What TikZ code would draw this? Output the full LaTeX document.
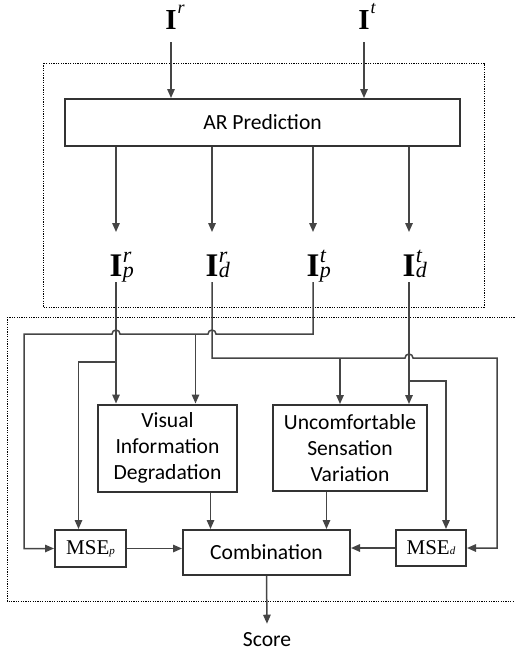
\documentclass[tikz,border=0pt]{standalone}
\usepackage{amsmath}
\usepackage{fontspec}
\setmainfont{Carlito}
\newfontfamily\tmsfont{Liberation Serif}
\usetikzlibrary{arrows.meta,calc,shadows}
\definecolor{wirecol}{HTML}{454545}
\definecolor{boxcol}{HTML}{333333}
% bold I with italic script letters hanging to the right
\newcommand{\imgtop}[1]{\textbf{I}\rlap{\kern1pt\fontsize{18}{18}\selectfont\itshape\raisebox{16pt}{#1}}}
\newcommand{\imgsub}[2]{\textbf{I}\rlap{\kern0.5pt\fontsize{22}{22}\selectfont\itshape\makebox[0pt][l]{\raisebox{13.5pt}{#1}}\raisebox{-1pt}{#2}}}

\begin{document}
\begin{tikzpicture}[x=1pt,y=-1pt,
  wire/.style={draw=wirecol,line width=1.5pt},
  arr/.style={wire,-{Triangle[length=9pt,width=7.5pt]}},
  blk/.style={draw=boxcol,line width=2pt,fill=white,inner sep=0pt,align=center,
    font=\fontsize{21.6}{26}\selectfont,
    drop shadow={shadow xshift=1.2pt,shadow yshift=-1.2pt,fill=black,opacity=0.2}},
  msebox/.style={blk,font=\tmsfont\fontsize{21}{24}\selectfont},
  frame/.style={draw=black,line width=0.9pt,dash pattern=on 1.2pt off 1.2pt},
  toplbl/.style={anchor=base,inner sep=0pt,font=\tmsfont\fontsize{29}{32}\selectfont},
  sublbl/.style={anchor=base,inner sep=0pt,font=\tmsfont\fontsize{33}{36}\selectfont}]
\useasboundingbox (0,0) rectangle (514,653);

\draw[frame] (43,63) rectangle (484,307);
\draw[frame] (7,317) rectangle (530,601);

% prediction stage
\node[toplbl] (Ir) at (171,29) {\imgtop{r}};
\node[toplbl] (It) at (364,29) {\imgtop{t}};
\node[blk,minimum width=395pt,minimum height=47pt] (AR) at (262.5,122.5) {AR Prediction};
\draw[arr] ([yshift=-13pt]Ir.base) -- (Ir.base |- AR.north);
\draw[arr] ([yshift=-13pt]It.base) -- (It.base |- AR.north);

\node[sublbl] (Ipr) at (116,276) {\imgsub{r}{p}};
\node[sublbl] (Idr) at (212,276) {\imgsub{r}{d}};
\node[sublbl] (Ipt) at (313,276) {\imgsub{t}{p}};
\node[sublbl] (Idt) at (409,276) {\imgsub{t}{d}};
\foreach \n in {Ipr,Idr,Ipt,Idt}
  \draw[arr] (\n.base |- AR.south) -- ([yshift=44pt]\n.base);

% quality stage
\node[blk,minimum width=139pt,minimum height=87pt] (VID) at (167.5,448) {Visual\\Information\\Degradation};
\node[blk,minimum width=154pt,minimum height=86pt] (USV) at (350,448) {Uncomfortable\\Sensation\\Variation};
\node[blk,minimum width=167pt,minimum height=45pt] (Comb) at (266.5,552.5) {Combination};
\node[msebox,minimum width=71pt,minimum height=37pt] (MSEp) at (90.5,548.5) {MSE\textit{\fontsize{11}{11}\selectfont p}};
\node[msebox,minimum width=70pt,minimum height=36pt] (MSEd) at (431,548) {MSE\textit{\fontsize{11}{11}\selectfont d}};
\node[font=\fontsize{21.6}{26}\selectfont,inner xsep=0pt,inner ysep=9pt] (Score) at (267,640) {Score};

% bus levels and taps
\coordinate (busA) at (0,334);
\coordinate (busB) at (0,358);
\coordinate (busC) at (0,362);
\coordinate (busD) at (0,381);
\coordinate (leftW) at (24,0);
\coordinate (rightW) at (497,0);
\coordinate (vtap) at ($(VID.north)+(28,0)$);
\coordinate (utap) at ($(USV.north)+(-10,0)$);
\coordinate (ptap) at ($(MSEp.north)+(-12,0)$);
\coordinate (dtap) at ($(MSEd.north)+(15,0)$);
\coordinate (ctapL) at ($(Comb.north)+(-56,0)$);
\coordinate (ctapR) at ($(Comb.north)+(60,0)$);

\draw[arr] ([yshift=-6pt]Ipt.base) -- (Ipt |- busA)
  -- ($(Idr |- busA)+(4,0)$) arc[start angle=0,end angle=-180,radius=4]
  -- ($(Ipr |- busA)+(4,0)$) arc[start angle=0,end angle=-180,radius=4]
  -- (leftW |- busA) -- (leftW |- MSEp.west) -- (MSEp.west);
\draw[arr] (vtap |- busA) -- (vtap);

\draw[arr] ([yshift=-6pt]Ipr.base) -- (Ipr |- VID.north);
\draw[arr] (Ipr |- busC) -| (ptap);

\draw[arr] ([yshift=-6pt]Idr.base) -- (Idr |- busB)
  -- ($(Idt |- busB)+(-4,0)$) arc[start angle=180,end angle=360,radius=4]
  -- (rightW |- busB) -- (rightW |- MSEd.east) -- (MSEd.east);
\draw[arr] (utap |- busB) -- (utap);

\draw[arr] ([yshift=-6pt]Idt.base) -- (Idt |- USV.north);
\draw[arr] (Idt |- busD) -| (dtap);

\draw[arr] (ctapL |- VID.south) -- (ctapL);
\draw[arr] (ctapR |- USV.south) -- (ctapR);
\draw[arr] (MSEp.east) -- (MSEp.east -| Comb.west);
\draw[arr] (MSEd.west) -- (MSEd.west -| Comb.east);
\draw[arr] (Comb.south) -- (Score.north);
\end{tikzpicture}
\end{document}
